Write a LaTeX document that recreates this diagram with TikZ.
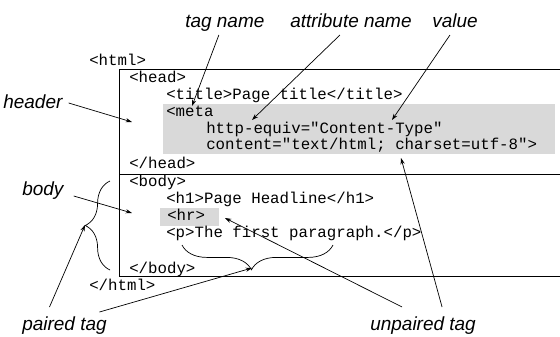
\documentclass[tikz,border=0pt]{standalone}
\usepackage{fontspec}
\setmainfont{Liberation Sans}
\setmonofont{Liberation Mono}
\usetikzlibrary{arrows.meta,calc,decorations.pathreplacing}
\definecolor{shadegray}{RGB}{217,217,217}

\begin{document}
\begin{tikzpicture}[x=0.025cm, y=-0.025cm,
    code/.style={anchor=base west, inner sep=0pt, font=\fontsize{11.2}{13}\selectfont\ttfamily},
    note/.style={anchor=base west, inner sep=0pt, font=\fontsize{13.5}{16}\selectfont\itshape},
    pointer/.style={-{Stealth[length=4.5pt,width=3pt]}, line width=0.5pt},
    curly/.style={decorate, decoration={brace, amplitude=0.62cm}, line width=0.5pt}]
    \useasboundingbox (0,0) rectangle (560,336);

    % shaded parts
    \fill[shadegray] (163,104) rectangle (555,154);
    \fill[shadegray] (160,208) rectangle (219,226);

    % document box, open to the right
    \draw[line width=0.7pt] (560,69) -| (119,276) -- (560,276);
    \draw[line width=0.7pt] (119,174) -- (560,174);

    % the markup
    \node[code] (htmlopen) at (89,65) {<html>};
    \node[code] (headopen) at (129,82) {<head>};
    \node[code] (titleline) at (166,99.5) {<title>Page title</title>};
    \node[code] (metaline) at (166,116) {<meta};
    \node[code] (equivline) at (206,133) {http-equiv="Content-Type"};
    \node[code] (contentline) at (206,149.5) {content="text/html; charset=utf-8">};
    \node[code] (headclose) at (129,168) {</head>};
    \node[code] (bodyopen) at (129,186) {<body>};
    \node[code] (hline) at (166,203) {<h1>Page Headline</h1>};
    \node[code] (hrline) at (167,220) {<hr>};
    \node[code] (pline) at (166,237) {<p>The first paragraph.</p>};
    \node[code] (bodyclose) at (129,273) {</body>};
    \node[code] (htmlclose) at (89,290) {</html>};

    % the notes
    \node[note] (tagname) at (185,27) {tag name};
    \node[note] (attrname) at (290,27) {attribute name};
    \node[note] (valuenote) at (432,27) {value};
    \node[note] (headernote) at (3,108) {header};
    \node[note] (bodynote) at (22,195) {body};
    \node[note] (pairednote) at (22,330) {paired tag};
    \node[note] (unpairednote) at (370,330) {unpaired tag};

    % braces
    \draw[curly] (110,270) -- (110,181);
    \draw[curly, decoration={aspect=0.54}] (333,245) -- (182,245);

    % arrow targets
    \coordinate (tagto) at (192,106);
    \coordinate (attrto) at (252,120);
    \coordinate (valto) at (392,120);
    \coordinate (headerto) at (132,122);
    \coordinate (bodyto) at (132,213);
    \coordinate (bracetip) at (85,225);
    \coordinate (ptip) at (252,268);
    \coordinate (charsetto) at (401,158);
    \coordinate (hrto) at (225,218);

    \draw[pointer] ($(tagname.base)+(-6,8)$) -- (tagto);
    \draw[pointer] ($(attrname.base)+(-11,8)$) -- (attrto);
    \draw[pointer] ($(valuenote.base)+(-5,8)$) -- (valto);
    \draw[pointer] ($(headernote.base east)+(6,-5)$) -- (headerto);
    \draw[pointer] ($(bodynote.base east)+(10,1)$) -- (bodyto);
    \draw[pointer] ($(pairednote.base)+(-15,-23)$) -- (bracetip);
    \draw[pointer] ($(pairednote.base)+(35,-18)$) -- (ptip);
    \draw[pointer] ($(unpairednote.base)+(19,-23)$) -- (charsetto);
    \draw[pointer] ($(unpairednote.base)+(-21,-23)$) -- (hrto);
\end{tikzpicture}
\end{document}
